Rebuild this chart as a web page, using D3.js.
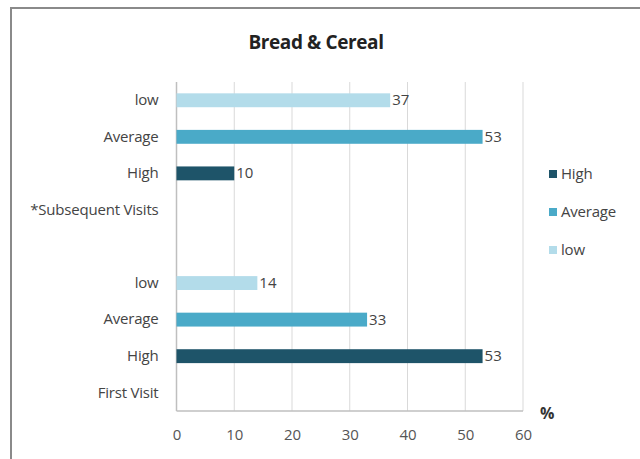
<!DOCTYPE html>
<html><head><meta charset="utf-8">
<script src="https://cdn.jsdelivr.net/npm/d3@7"></script>
<style>
html,body{margin:0;padding:0;background:#fff;}
svg{display:block;font-family:"Open Sans","Lato",sans-serif;}
</style></head>
<body>
<svg id="c" width="640" height="459"></svg>
<script>
const title = "Bread & Cereal";
const groups = ["First Visit", "*Subsequent Visits"];
const seriesNames = ["High", "Average", "low"];
const firstVisit = [53, 33, 14];
const subsequentVisits = [10, 53, 37];
const xTicks = [0, 10, 20, 30, 40, 50, 60];
const colors = ["#1e5469", "#4aaac8", "#b3dcea"];
const unitLabel = "%";

(function(){
const svg = d3.select("#c");

// outer frame
svg.append("rect").attr("x", 11).attr("y", 8).attr("width", 700).attr("height", 600)
  .attr("fill", "#fff").attr("stroke", "#8a8a8a").attr("stroke-width", 2);

const groupValues = [firstVisit, subsequentVisits];
const rows = [];
groups.forEach((g, gi) => {
  rows.push({key: "g" + gi, label: g, group: true});
  seriesNames.forEach((s, si) => rows.push({key: "r" + gi + "_" + si, label: s, value: groupValues[gi][si], si}));
  if (gi < groups.length - 1) rows.push({key: "sp" + gi, label: "", spacer: true});
});
const rowsTop = rows.slice().reverse();

const pl = 176.5, pr = 523, pt = 82, pb = 411;
const x = d3.scaleLinear().domain([0, 60]).range([pl, pr]);
const y = d3.scaleBand().domain(rowsTop.map(r => r.key)).range([pt, pb]).paddingInner(0.62).paddingOuter(0.31);

// gridlines
svg.append("g").selectAll("line").data(xTicks.slice(1)).join("line")
  .attr("x1", d => x(d)).attr("x2", d => x(d)).attr("y1", pt).attr("y2", pb)
  .attr("stroke", "#d9d9d9").attr("stroke-width", 1);

// axes lines
svg.append("line").attr("x1", pl).attr("x2", pl).attr("y1", pt).attr("y2", pb)
  .attr("stroke", "#bfbfbf").attr("stroke-width", 1.5);
svg.append("line").attr("x1", pl).attr("x2", pr).attr("y1", pb).attr("y2", pb)
  .attr("stroke", "#bfbfbf").attr("stroke-width", 1.5);

// x axis labels
const xAxis = d3.axisBottom(x).tickValues(xTicks).tickSize(0).tickPadding(18);
const gx = svg.append("g").attr("transform", `translate(0,${pb})`).call(xAxis);
gx.select(".domain").remove();
gx.selectAll("text").attr("font-size", 15).attr("fill", "#555").attr("font-family", "Open Sans, Lato, sans-serif");

// y category labels
const yAxis = d3.axisLeft(y).tickSize(0).tickPadding(18)
  .tickFormat(k => rowsTop.find(r => r.key === k).label);
const gy = svg.append("g").attr("transform", `translate(${pl},0)`).call(yAxis);
gy.select(".domain").remove();
gy.selectAll("text").attr("font-size", 15).attr("fill", "#444").attr("font-family", "Open Sans, Lato, sans-serif")
  .attr("letter-spacing", "-0.2px");

// bars
const bars = rowsTop.filter(r => r.value !== undefined);
svg.append("g").selectAll("rect").data(bars).join("rect")
  .attr("x", x(0)).attr("y", d => y(d.key)).attr("width", d => x(d.value) - x(0))
  .attr("height", y.bandwidth()).attr("fill", d => colors[d.si]);

// value labels
svg.append("g").selectAll("text").data(bars).join("text")
  .attr("x", d => x(d.value) + 2).attr("y", d => y(d.key) + y.bandwidth() / 2 + 5)
  .attr("font-size", 15).attr("fill", "#444").text(d => d.value);

// title
svg.append("text").attr("x", 316).attr("y", 49).attr("text-anchor", "middle")
  .attr("font-size", 19).attr("font-weight", "bold").attr("fill", "#222").attr("letter-spacing", "-0.4px").text(title);

// unit label
svg.append("text").attr("x", 540).attr("y", 419).attr("font-size", 16).attr("font-weight", "bold")
  .attr("fill", "#333").text(unitLabel);

// legend
const lg = svg.append("g");
seriesNames.forEach((s, i) => {
  const ly = 174 + i * 38;
  lg.append("rect").attr("x", 549).attr("y", ly - 4).attr("width", 8).attr("height", 8).attr("fill", colors[i]);
  lg.append("text").attr("x", 561).attr("y", ly + 5).attr("font-size", 15).attr("fill", "#444")
    .attr("letter-spacing", "-0.2px").text(s);
});
})();
</script>
</body></html>
